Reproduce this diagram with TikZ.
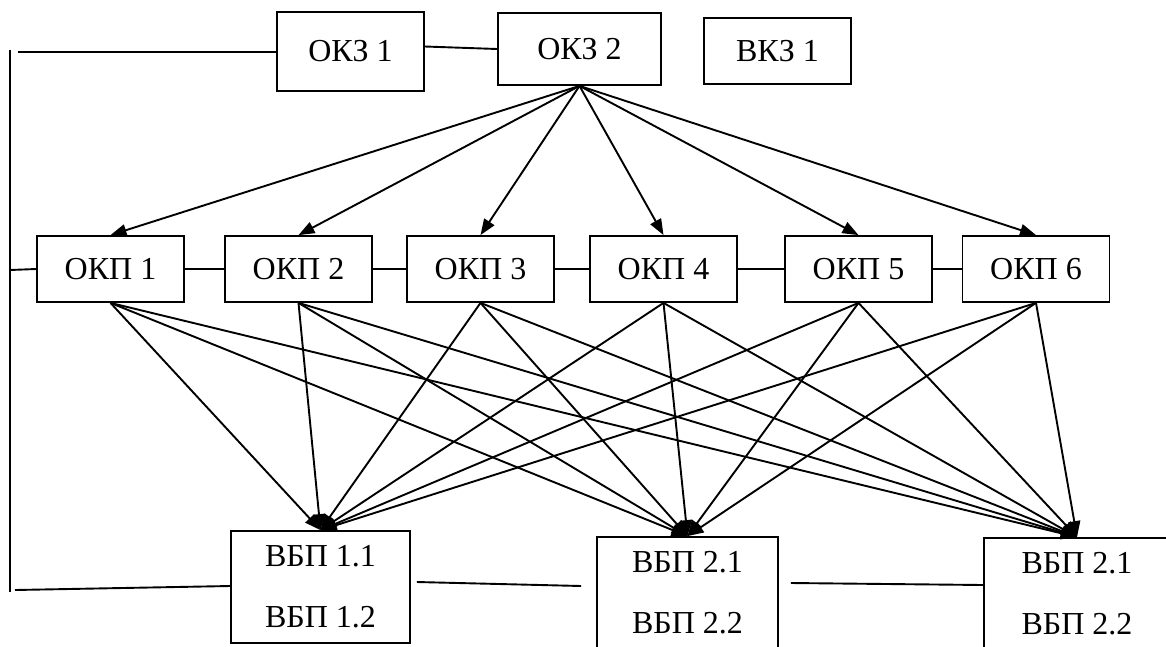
\documentclass[tikz,border=0pt]{standalone}
\usepackage{fontspec}
\setmainfont{Liberation Serif}
\usetikzlibrary{arrows.meta,calc}
\begin{document}
\begin{tikzpicture}[x=1pt,y=-1pt,
  box/.style={draw,line width=1.8pt,inner sep=0pt,font=\fontsize{32}{61}\selectfont,align=center},
  link/.style={line width=1.9pt},
  arr/.style={line width=1.9pt,-{Triangle[length=16pt,width=12pt]}}]
\clip (0,0) rectangle (1166,646);
\fill[white] (0,0) rectangle (1166,646);
% top row
\node[box,minimum width=147pt,minimum height=79pt] (okz1) at (350.5,51.5) {ОКЗ 1};
\node[box,minimum width=163pt,minimum height=72pt] (okz2) at (579.5,49) {ОКЗ 2};
\node[box,minimum width=147pt,minimum height=66pt] (vkz1) at (777.5,51) {ВКЗ 1};
% middle row
\foreach \i/\x in {1/110.5,2/298.5,3/480.5,4/663.5,5/858.5,6/1036}
  \node[box,minimum width=147pt,minimum height=66pt] (okp\i) at (\x,269) {ОКП \i};
% bottom row
\node[box,minimum width=179pt,minimum height=112pt] (vbp1) at (320.5,587) {ВБП 1.1\\ВБП 1.2};
\node[box,minimum width=181pt,minimum height=112pt] (vbp2) at (687.5,593) {ВБП 2.1\\ВБП 2.2};
\node[box,minimum width=186pt,minimum height=112pt] (vbp3) at (1077,594) {ВБП 2.1\\ВБП 2.2};
% bus on the left
\coordinate (busTop) at (10,50);
\coordinate (busBot) at (10,592);
\coordinate (kIn) at (18,52);
\coordinate (pIn) at (10,270);
\coordinate (bIn) at (15,590);
\draw[link] (busTop) -- (busBot);
\draw[link] (kIn) -- (kIn -| okz1.west);
\draw[link] (pIn) -- (okp1.west);
\draw[link] (bIn) -- ($(vbp1.west)+(0,-1)$);
% top links
\draw[link] ($(okz1.east)+(0,-5)$) -- (okz2.west);
% middle links
\foreach \a/\b in {1/2,2/3,3/4,4/5,5/6}
  \draw[link] (okp\a.east) -- (okp\b.west);
% bottom links
\draw[link] ($(vbp1.east)+(6,-5)$) -- ($(vbp2.west)+(-15,-7)$);
\draw[link] ($(vbp2.east)+(12,-10)$) -- ($(vbp3.west)+(0,-9)$);
% arrows from OKZ 2
\foreach \i in {1,...,6}
  \draw[arr] (okz2.south) -- (okp\i.north);
% arrows to VBP
\foreach \i in {1,...,6}
  \foreach \j in {1,2,3}
    \draw[arr] (okp\i.south) -- (vbp\j.north);
\end{tikzpicture}
\end{document}
